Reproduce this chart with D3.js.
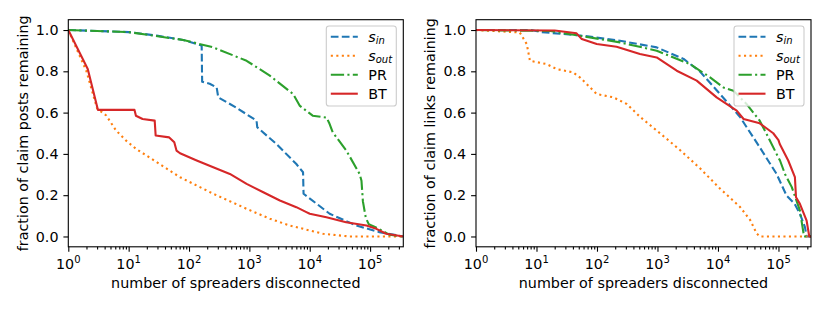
<!DOCTYPE html>
<html>
<head>
<meta charset="utf-8">
<script src="https://cdn.jsdelivr.net/npm/d3@7"></script>
<style>
  body { margin: 0; background: #fff; }
  text { font-family: "DejaVu Sans", sans-serif; fill: #000; }
</style>
</head>
<body>
<svg width="830" height="312"></svg>
<script>
// ---- data: [spreaders disconnected, fraction remaining] ----
var postsSin = [[1,1],[10,0.99],[29,0.973],[80,0.952],[150,0.928],[162,0.924],[165,0.75],[220,0.74],[287,0.722],[305,0.674],[600,0.625],[1315,0.561],[1350,0.529],[2800,0.448],[6000,0.351],[7750,0.311],[7900,0.207],[21400,0.11],[59000,0.053],[143000,0.021],[355000,0]];
var postsSout = [[1,1],[2,0.8],[3,0.62],[4.25,0.586],[6.2,0.513],[9.1,0.464],[13.3,0.424],[33,0.35],[71,0.287],[252,0.207],[900,0.134],[2180,0.086],[4700,0.053],[16600,0.013],[46000,0],[355000,0]];
var postsPR = [[1,1],[10,0.99],[80,0.952],[252,0.916],[900,0.851],[2180,0.779],[5300,0.69],[6800,0.634],[11200,0.585],[19000,0.576],[21000,0.55],[24000,0.505],[40400,0.416],[67000,0.303],[72000,0.27],[76000,0.17],[85000,0.09],[95000,0.06],[123000,0.045],[210000,0.008],[355000,0]];
var postsBT = [[1,1],[2.1,0.811],[3.1,0.613],[12.5,0.613],[13.2,0.585],[17,0.569],[27,0.561],[28,0.489],[47,0.48],[57,0.456],[62,0.416],[71,0.403],[134,0.368],[252,0.335],[475,0.303],[900,0.255],[1700,0.214],[3200,0.174],[6000,0.142],[8800,0.118],[10000,0.11],[18900,0.093],[40000,0.069],[87000,0.053],[127000,0.037],[185000,0.013],[355000,0]];

var linksSin = [[1,1],[8,1],[12,0.99],[59,0.972],[240,0.948],[970,0.916],[2700,0.86],[5000,0.8],[10800,0.69],[23000,0.58],[49000,0.432],[93000,0.303],[136000,0.198],[185000,0.158],[226000,0.11],[274000,0.045],[292000,0],[345000,0]];
var linksSout = [[1,1],[5.3,0.988],[6.9,0.932],[7.8,0.851],[14.7,0.835],[21.5,0.811],[40,0.795],[52,0.771],[99,0.69],[186,0.674],[310,0.642],[513,0.58],[1100,0.5],[2350,0.419],[5050,0.33],[10700,0.233],[23000,0.144],[34000,0.08],[43500,0.015],[49000,0],[345000,0]];
var linksPR = [[1,1],[17,0.995],[24,0.988],[52,0.972],[240,0.94],[970,0.9],[3450,0.835],[7400,0.771],[12300,0.722],[18000,0.706],[29600,0.642],[49000,0.561],[63500,0.497],[93000,0.4],[106000,0.368],[128000,0.303],[166000,0.239],[226000,0.126],[250000,0.045],[265000,0],[345000,0]];
var linksBT = [[1,1],[20,0.998],[46,0.984],[56,0.956],[99,0.932],[211,0.919],[513,0.884],[970,0.867],[2080,0.803],[4450,0.755],[9500,0.674],[20400,0.61],[26500,0.569],[49000,0.548],[82000,0.5],[100000,0.467],[105000,0.448],[145000,0.368],[187000,0.287],[195000,0.19],[226000,0.158],[292000,0.077],[323000,0],[345000,0]];

var xMajor = [1, 10, 100, 1000, 10000, 100000];
var yTicks = [0, 0.2, 0.4, 0.6, 0.8, 1.0];
var seriesNames = ["sin", "sout", "PR", "BT"];
var xLabel = "number of spreaders disconnected";

var colors = {sin: "#1f77b4", sout: "#ff7f0e", PR: "#2ca02c", BT: "#d62728"};
var dashes = {sin: "7.7,3.3", sout: "2.1,3.4", PR: "13.3,3.3,2.1,3.3", BT: null};

var svg = d3.select("svg"),
	fs = 14.3,
	yTop = 19.7,
	yBottom = 246.8;

function drawPanel(opt) {
	var x = d3.scaleLog().domain([1, opt.xmax]).range([opt.left, opt.right]);
	var y = d3.scaleLinear().domain([-0.05, 1.05]).range([yBottom, yTop]);
	var g = svg.append("g");

	g.append("clipPath").attr("id", opt.id + "clip")
		.append("rect")
		.attr("x", opt.left).attr("y", yTop)
		.attr("width", opt.right - opt.left).attr("height", yBottom - yTop);

	var line = d3.line().x(d => x(d[0])).y(d => y(d[1]));
	var lines = g.append("g").attr("clip-path", "url(#" + opt.id + "clip)");
	seriesNames.forEach(function (s, i) {
		lines.append("path")
			.datum(opt.series[i])
			.attr("d", line)
			.attr("fill", "none")
			.attr("stroke", colors[s])
			.attr("stroke-width", 2.1)
			.attr("stroke-linejoin", "round")
			.attr("stroke-dasharray", dashes[s]);
	});

	// minor ticks on the log axis
	var minor = [];
	for (var k = 0; k < 6; k++)
		for (var m = 2; m < 10; m++) {
			var v = m * Math.pow(10, k);
			if (v <= opt.xmax) minor.push(v);
		}
	var ax = g.append("g").attr("transform", "translate(0," + yBottom + ")");
	ax.append("g").call(d3.axisBottom(x).tickValues(minor).tickSize(2.8).tickFormat(() => ""));
	ax.append("g").call(d3.axisBottom(x).tickValues(xMajor).tickSize(4.9).tickFormat(() => ""));
	ax.selectAll(".domain").remove();
	ax.selectAll("line").attr("stroke", "#000").attr("stroke-width", 1.1);

	xMajor.forEach(function (v, i) {
		var t = g.append("text")
			.attr("x", x(v)).attr("y", 268.5)
			.attr("text-anchor", "middle")
			.attr("font-size", fs);
		t.append("tspan").text("10");
		t.append("tspan").attr("dy", -5.8).attr("font-size", fs * 0.7).text(i);
	});

	var ay = g.append("g").attr("transform", "translate(" + opt.left + ",0)");
	ay.call(d3.axisLeft(y).tickValues(yTicks).tickSize(4.9).tickPadding(4.9).tickFormat(d3.format(".1f")));
	ay.selectAll(".domain").remove();
	ay.selectAll("line").attr("stroke", "#000").attr("stroke-width", 1.1);
	ay.attr("font-size", fs).attr("font-family", "DejaVu Sans");

	g.append("rect")
		.attr("x", opt.left).attr("y", yTop)
		.attr("width", opt.right - opt.left).attr("height", yBottom - yTop)
		.attr("fill", "none").attr("stroke", "#000").attr("stroke-width", 1.1);

	g.append("text")
		.attr("x", (opt.left + opt.right) / 2).attr("y", 288)
		.attr("text-anchor", "middle").attr("font-size", fs)
		.text(xLabel);
	g.append("text")
		.attr("transform", "translate(" + opt.ylabX + "," + (yTop + yBottom) / 2 + ") rotate(-90)")
		.attr("text-anchor", "middle").attr("font-size", fs)
		.text(opt.ylabel);

	// legend
	var lw = 70, lx = opt.right - 7 - lw, ly = 26;
	var leg = g.append("g");
	leg.append("rect")
		.attr("x", lx).attr("y", ly).attr("width", lw).attr("height", 80)
		.attr("rx", 2.8)
		.attr("fill", "#fff").attr("fill-opacity", 0.8)
		.attr("stroke", "#ccc").attr("stroke-width", 1.1);
	seriesNames.forEach(function (s, i) {
		var yy = 36.7 + i * 19;
		leg.append("line")
			.attr("x1", lx + 4.5).attr("x2", lx + 31.5)
			.attr("y1", yy).attr("y2", yy)
			.attr("stroke", colors[s]).attr("stroke-width", 2.1)
			.attr("stroke-dasharray", dashes[s]);
		var t = leg.append("text")
			.attr("x", lx + 42).attr("y", yy + 5)
			.attr("font-size", fs);
		if (s === "sin" || s === "sout") {
			t.append("tspan").attr("font-style", "italic").text("s");
			t.append("tspan").attr("font-style", "italic").attr("font-size", fs * 0.7)
				.attr("dy", 2.4).text(s === "sin" ? "in" : "out");
		} else {
			t.text(s);
		}
	});
}

drawPanel({
	id: "posts", left: 68.3, right: 403.3, xmax: 355000, ylabX: 28,
	ylabel: "fraction of claim posts remaining",
	series: [postsSin, postsSout, postsPR, postsBT]
});
drawPanel({
	id: "links", left: 476, right: 811, xmax: 345000, ylabX: 435.3,
	ylabel: "fraction of claim links remaining",
	series: [linksSin, linksSout, linksPR, linksBT]
});
</script>
</body>
</html>
